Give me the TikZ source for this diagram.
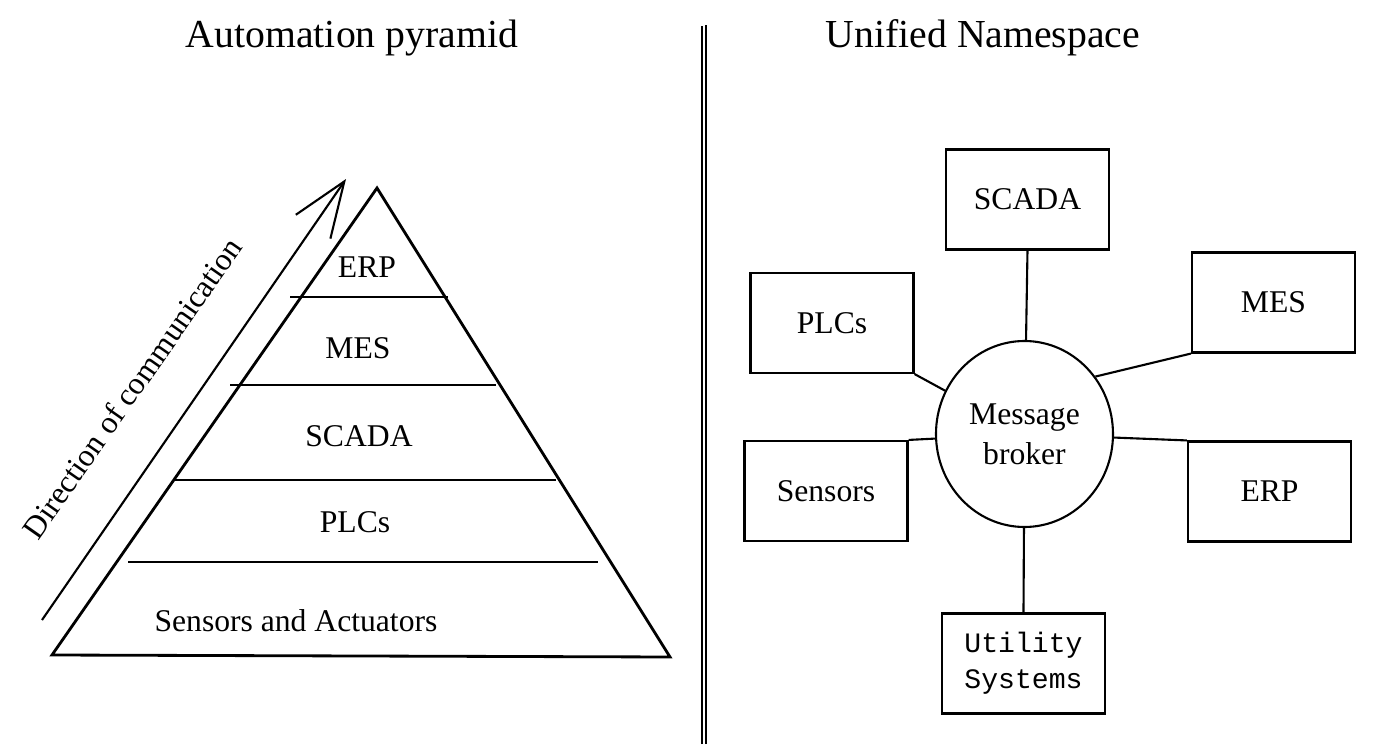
\documentclass[tikz,border=0pt]{standalone}
\usepackage{fontspec}
\setmainfont{Liberation Serif}
\newfontfamily\utilfont{Liberation Mono}
\usetikzlibrary{arrows.meta,shapes.geometric}

\begin{document}
\begin{tikzpicture}[
      every node/.style={font=\fontsize{9}{11.4}\selectfont},
      title/.style={font=\fontsize{11.3}{13}\selectfont},
      unit/.style={draw, line width=0.6pt, minimum width=16.3mm, minimum height=10mm},
      layer/.style={line width=0.8pt},
      link/.style={line width=0.6pt}
    ]
    \useasboundingbox (0,0) rectangle (13.96,7.44);
    % titles
    \node[title] (pyrtitle) at (3.52,7.06) {Automation pyramid};
    \node[title] (unstitle) at (9.83,7.06) {Unified Namespace};
    % divider
    \draw[link] (7.02,0) -- (7.02,7.18);
    \draw[link] (7.06,0) -- (7.06,7.19);
    % pyramid
    \draw[layer] (0.52,0.89) -- (3.77,5.56) -- (6.70,0.87) -- cycle;
    \draw[layer] (2.90,4.47) -- (4.48,4.47);
    \draw[layer] (2.30,3.59) -- (4.96,3.59);
    \draw[layer] (1.75,2.64) -- (5.56,2.64);
    \draw[layer] (1.28,1.82) -- (5.98,1.82);
    \node (erplayer) at (3.67,4.77) {ERP};
    \node (meslayer) at (3.58,3.96) {MES};
    \node (scadalayer) at (3.59,3.08) {SCADA};
    \node (plclayer) at (3.55,2.22) {PLCs};
    \node (sensorlayer) at (2.96,1.23) {Sensors and Actuators};
    % direction arrow
    \coordinate (tail) at (0.42,1.24);
    \coordinate (tip) at (3.46,5.65);
    \draw[link, -{Straight Barb[length=5.5mm,width=4.2mm]}] (tail) -- (tip);
    \node[rotate=55] (direction) at (1.32,3.56) {Direction of communication};
    % namespace
    \node[ellipse, draw, line width=0.6pt, inner sep=0pt, minimum width=17.7mm, minimum height=18.6mm, align=center] (broker) at (10.245,3.10) {Message\\broker};
    \node[unit] (scada) at (10.275,5.445) {SCADA};
    \node[unit] (plcs) at (8.32,4.21) {PLCs};
    \node[unit] (mes) at (12.735,4.415) {MES};
    \node[unit] (sensors) at (8.26,2.53) {Sensors};
    \node[unit] (erp) at (12.695,2.525) {ERP};
    \node[unit, align=center, font=\utilfont\fontsize{8}{10.2}\selectfont] (utility) at (10.235,0.805) {Utility\\Systems};
    \draw[link] (scada.south) -- (broker);
    \draw[link] (plcs.south east) -- (broker);
    \draw[link] (mes.south west) -- (broker.39);
    \draw[link] (sensors.north east) -- (broker);
    \draw[link] (erp.north west) -- (broker);
    \draw[link] (utility.north) -- (broker);
\end{tikzpicture}
\end{document}
